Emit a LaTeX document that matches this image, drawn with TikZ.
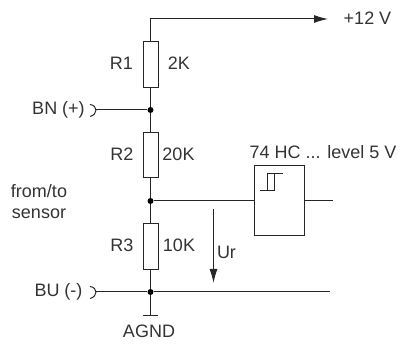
\documentclass[tikz,border=0pt]{standalone}
\usepackage{fontspec}
\setmainfont{Liberation Sans}
\usetikzlibrary{arrows.meta}
\tikzset{
  wire/.style={line width=1pt, draw=black!85},
  res/.style={draw=black!85, line width=1pt, rectangle, minimum width=15pt, minimum height=46pt, inner sep=0pt},
  dot/.style={circle, fill=black, inner sep=0pt, minimum size=6pt},
  lbl/.style={text=black!80, inner sep=0pt, font=\fontsize{18}{21}\selectfont},
  tip/.style={-{Latex[length=14pt,width=8pt]}},
}
\begin{document}
\begin{tikzpicture}[x=1pt,y=-1pt]
\useasboundingbox (0,0) rectangle (400,347);
\node[res] (r1) at (150.5,65) {}; % upper resistor
\node[res, minimum height=45pt] (r2) at (150.5,155.5) {}; % middle resistor
\node[res] (r3) at (150.5,247) {}; % lower resistor
\node[dot] (jbn) at (150.5,110) {}; % BN junction
\node[dot] (jmid) at (150.5,201) {}; % gate junction
\node[dot] (jbu) at (150.5,292) {}; % BU junction
\node[draw=black!85, line width=1pt, rectangle, minimum width=50pt, minimum height=70pt, inner sep=0pt] (gate) at (279.5,201) {}; % schmitt gate
\coordinate (corner) at (150.5,19);
\coordinate (supply) at (328,19);
\coordinate (bn) at (95,110);
\coordinate (bu) at (95,292);
\coordinate (gnd) at (150.5,316);
\coordinate (gndl) at (143,316);
\coordinate (gndr) at (158,316);
\coordinate (buend) at (330,292);
\coordinate (out) at (333,201);
\coordinate (urtop) at (213.5,209);
\coordinate (urend) at (213.5,283);
\draw[wire, tip] (r1.north) -- (corner) -- (supply); % supply line
\draw[wire] (r1.south) -- (jbn) -- (r2.north); % R1 to R2
\draw[wire] (r2.south) -- (jmid) -- (r3.north); % R2 to R3
\draw[wire] (r3.south) -- (jbu) -- (gnd); % R3 to ground
\draw[wire] (gndl) -- (gndr); % ground bar
\draw[wire] (bn) -- (jbn); % BN input
\draw[wire] (bu) -- (jbu) -- (buend); % BU rail
\draw[wire] (jmid) -- (gate.west); % gate input
\draw[wire] (gate.east) -- (out); % gate output
\draw[wire, tip] (urtop) -- (urend); % Ur arrow
\draw[wire] (90,104.5) .. controls (98,105.5) and (98,114.5) .. (90,116.5); % BN terminal
\draw[wire] (90,286.5) .. controls (98,287.5) and (98,296.5) .. (90,298.5); % BU terminal
\draw[wire] (260,191) -- (275,191) (267,191) -- (267,173.5) -- (283,173.5) (274,191) -- (274,173.5); % hysteresis
\node[lbl] (lr1) at (121.5,63) {R1};
\node[lbl] (lv1) at (179,63) {2K};
\node[lbl] (lr2) at (122,154) {R2};
\node[lbl] (lv2) at (178.5,154) {20K};
\node[lbl] (lr3) at (122,245) {R3};
\node[lbl] (lv3) at (179,245) {10K};
\node[lbl] (lbn) at (58.5,110) {BN (+)};
\node[lbl] (lbu) at (58.5,292) {BU (-)};
\node[lbl] (lfrom) at (39,191) {from/to};
\node[lbl] (lsensor) at (39,214) {sensor};
\node[lbl] (lagnd) at (149,331) {AGND};
\node[lbl] (l12) at (367.5,18) {+12 V};
\node[lbl] (lgate) at (323,152) {74 HC ... level 5 V};
\node[lbl] (lur) at (226.5,252) {Ur};
\end{tikzpicture}
\end{document}
